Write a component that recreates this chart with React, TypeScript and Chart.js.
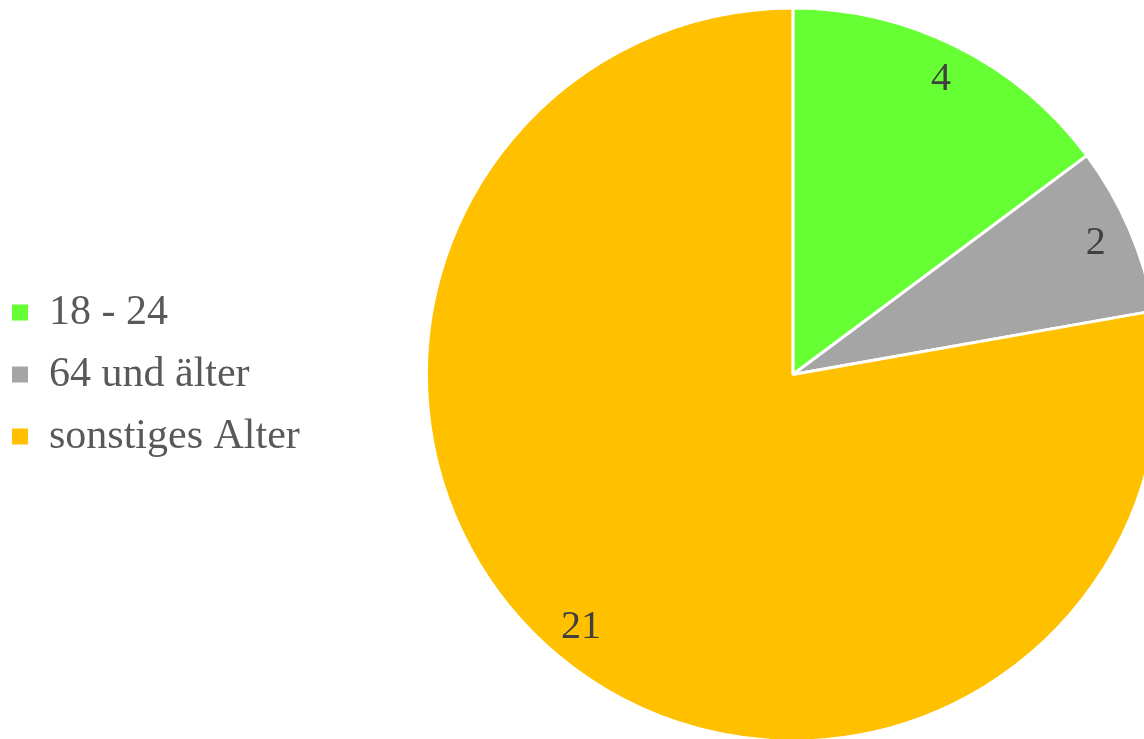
import React, { useEffect, useRef } from "react";
import { Chart, registerables } from "chart.js";

Chart.register(...registerables);

const categories = ["18 - 24", "64 und älter", "sonstiges Alter"];
const counts = [4, 2, 21];
const sliceColors = ["#66FF33", "#A5A5A5", "#FFC000"];

const FONT = "'Liberation Serif', 'Times New Roman', serif";

const sliceLabels = {
  id: "sliceLabels",
  afterDatasetsDraw(chart: any) {
    const ctx = chart.ctx;
    const meta = chart.getDatasetMeta(0);
    const data = chart.data.datasets[0].data;
    ctx.save();
    ctx.font = `40px ${FONT}`;
    ctx.fillStyle = "#404040";
    ctx.textAlign = "center";
    ctx.textBaseline = "middle";
    meta.data.forEach((arc: any, i: number) => {
      const p = arc.getProps(["x", "y", "startAngle", "endAngle", "outerRadius"], true);
      const mid = (p.startAngle + p.endAngle) / 2;
      const r = p.outerRadius * 0.9;
      ctx.fillText(String(data[i]), p.x + Math.cos(mid) * r, p.y + Math.sin(mid) * r);
    });
    ctx.restore();
  },
};

export default function App() {
  const ref = useRef<HTMLCanvasElement | null>(null);
  useEffect(() => {
    if (!ref.current) return;
    const chart = new Chart(ref.current, {
      type: "pie",
      data: {
        labels: categories,
        datasets: [
          {
            data: counts,
            backgroundColor: sliceColors,
            borderColor: "#FFFFFF",
            borderWidth: 3,
          },
        ],
      },
      options: {
        responsive: true,
        maintainAspectRatio: false,
        animation: false,
        radius: 366.5,
        layout: { padding: 0 },
        plugins: {
          tooltip: { enabled: false },
          legend: {
            position: "left",
            labels: {
              boxWidth: 16,
              boxHeight: 16,
              padding: 20,
              color: "#595959",
              font: { family: FONT, size: 42 },
              generateLabels(chart: any) {
                const items = Chart.overrides.pie.plugins.legend.labels.generateLabels(chart);
                return items.map((it: any) => ({ ...it, lineWidth: 0, strokeStyle: it.fillStyle }));
              },
            },
          },
        },
      } as any,
      plugins: [sliceLabels],
    });
    return () => chart.destroy();
  }, []);
  return (
    <div style={{ position: "fixed", left: 0, top: 0, width: "100vw", height: "100vh", overflow: "hidden", background: "#fff" }}>
      <div style={{ position: "absolute", left: -8, top: 0, width: 1284, height: 749 }}>
        <canvas ref={ref} />
      </div>
    </div>
  );
}
